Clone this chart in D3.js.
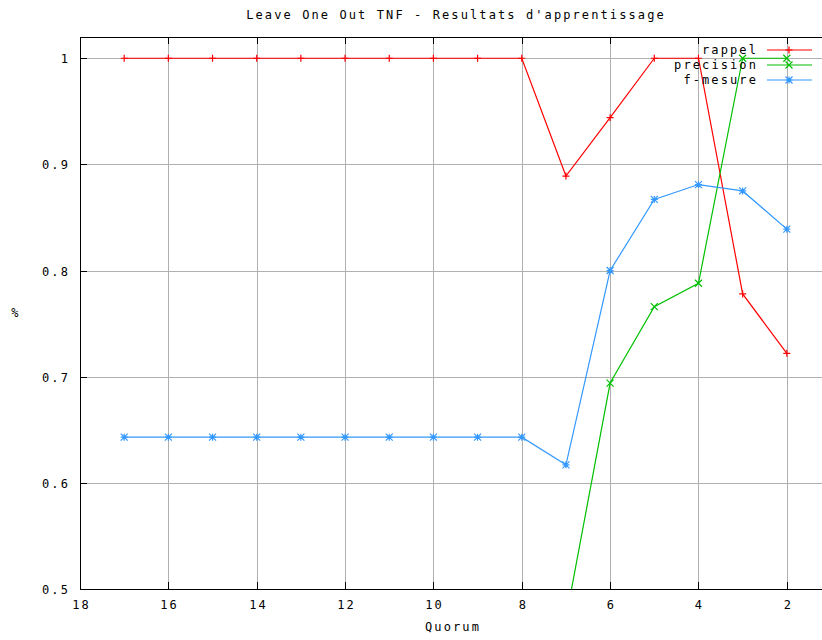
<!DOCTYPE html>
<meta charset="utf-8">
<head>
<style>
body { margin: 0; background: #fff; }
text {
  font-family: 'DejaVu Sans Mono', monospace;
  font-size: 12px;
  letter-spacing: 2.1px;
  fill: #000;
}
.grid line { stroke: #b0b0b0; stroke-width: 1; shape-rendering: crispEdges; }
.border { fill: none; stroke: #000; stroke-width: 1; shape-rendering: crispEdges; }
.tick { stroke: #000; stroke-width: 1; shape-rendering: crispEdges; }
</style>
<script src="https://d3js.org/d3.v7.min.js"></script>
</head>
<body>
<svg id="chart"></svg>
<script>

// data
var quorum = [17, 16, 15, 14, 13, 12, 11, 10, 9, 8, 7, 6, 5, 4, 3, 2]
var rappel = [1, 1, 1, 1, 1, 1, 1, 1, 1, 1, 0.889, 0.944, 1, 1, 0.778, 0.722]
var precision = [0.474, 0.474, 0.474, 0.474, 0.474, 0.474, 0.474, 0.474, 0.474, 0.474, 0.472, 0.694, 0.766, 0.788, 1, 1]
var fmesure = [0.643, 0.643, 0.643, 0.643, 0.643, 0.643, 0.643, 0.643, 0.643, 0.643, 0.617, 0.8, 0.867, 0.881, 0.875, 0.839]
var xTicks = [18, 16, 14, 12, 10, 8, 6, 4, 2]
var yTicks = [0.5, 0.6, 0.7, 0.8, 0.9, 1]
var seriesNames = ['rappel', 'precision', 'f-mesure']
var seriesColors = ['#ff0000', '#00c000', '#3399ff']
var seriesMarks = ['plus', 'cross', 'star']

var width = 822, height = 640
var plot = {left: 80, right: 831, top: 37, bottom: 589}

var svg = d3.select('#chart').attr('width', width).attr('height', height)

var x = d3.scaleLinear().domain([18, 1]).range([plot.left, plot.right])
var y = d3.scaleLinear().domain([0.5, 1.02]).range([plot.bottom, plot.top])

// grid
var grid = svg.append('g').attr('class', 'grid')
grid.selectAll('.vx').data(xTicks).enter().append('line')
  .attr('x1', d => Math.round(x(d)) + 0.5).attr('x2', d => Math.round(x(d)) + 0.5)
  .attr('y1', plot.top).attr('y2', plot.bottom)
grid.selectAll('.hy').data(yTicks).enter().append('line')
  .attr('x1', plot.left).attr('x2', plot.right)
  .attr('y1', d => Math.round(y(d)) + 0.5).attr('y2', d => Math.round(y(d)) + 0.5)

// border
svg.append('rect').attr('class', 'border')
  .attr('x', plot.left + 0.5).attr('y', plot.top + 0.5)
  .attr('width', plot.right - plot.left).attr('height', plot.bottom - plot.top)

// ticks (inward, mirrored on top)
xTicks.forEach(function (t) {
  var px = Math.round(x(t)) + 0.5
  svg.append('line').attr('class', 'tick').attr('x1', px).attr('x2', px).attr('y1', plot.bottom).attr('y2', plot.bottom - 7)
  svg.append('line').attr('class', 'tick').attr('x1', px).attr('x2', px).attr('y1', plot.top).attr('y2', plot.top + 7)
  svg.append('text').attr('x', px + 1).attr('y', plot.bottom + 20).attr('text-anchor', 'middle').text(t)
})
yTicks.forEach(function (t) {
  var py = Math.round(y(t)) + 0.5
  svg.append('line').attr('class', 'tick').attr('x1', plot.left).attr('x2', plot.left + 7).attr('y1', py).attr('y2', py)
  svg.append('text').attr('x', 70).attr('y', py + 4).attr('text-anchor', 'end').text(d3.format('')(t))
})

// titles
svg.append('text').attr('x', 456).attr('y', 19).attr('text-anchor', 'middle')
  .text("Leave One Out TNF - Resultats d'apprentissage")
svg.append('text').attr('x', 453).attr('y', 631).attr('text-anchor', 'middle').text('Quorum')
svg.append('text').attr('x', 16).attr('y', 317).attr('text-anchor', 'middle').text('%')

// series
svg.append('clipPath').attr('id', 'clip').append('rect')
  .attr('x', plot.left).attr('y', plot.top).attr('width', plot.right - plot.left).attr('height', plot.bottom - plot.top)

var series = [rappel, precision, fmesure]
var line = d3.line().x(d => x(d[0])).y(d => y(d[1]))

function drawMark(g, kind, cx, cy, color) {
  var s = 3.5
  var p = ''
  if (kind === 'plus' || kind === 'star') p += 'M' + (cx - s) + ',' + cy + 'H' + (cx + s) + 'M' + cx + ',' + (cy - s) + 'V' + (cy + s)
  if (kind === 'cross' || kind === 'star') p += 'M' + (cx - s) + ',' + (cy - s) + 'L' + (cx + s) + ',' + (cy + s) + 'M' + (cx - s) + ',' + (cy + s) + 'L' + (cx + s) + ',' + (cy - s)
  g.append('path').attr('d', p).attr('stroke', color).attr('stroke-width', 1.2).attr('fill', 'none')
}

var plotG = svg.append('g').attr('clip-path', 'url(#clip)')
series.forEach(function (vals, i) {
  var pts = quorum.map((q, j) => [q, vals[j]])
  plotG.append('path').attr('d', line(pts)).attr('fill', 'none')
    .attr('stroke', seriesColors[i]).attr('stroke-width', 1.2)
  pts.forEach(function (p) {
    drawMark(plotG, seriesMarks[i], x(p[0]), y(p[1]), seriesColors[i])
  })
})

// legend
seriesNames.forEach(function (name, i) {
  var ly = 50 + i * 15
  svg.append('text').attr('x', 758).attr('y', ly + 4).attr('text-anchor', 'end').text(name)
  svg.append('line').attr('x1', 767).attr('x2', 812).attr('y1', ly).attr('y2', ly)
    .attr('stroke', seriesColors[i]).attr('stroke-width', 1.2)
  drawMark(svg, seriesMarks[i], 789, ly, seriesColors[i])
})

</script>
</body>
